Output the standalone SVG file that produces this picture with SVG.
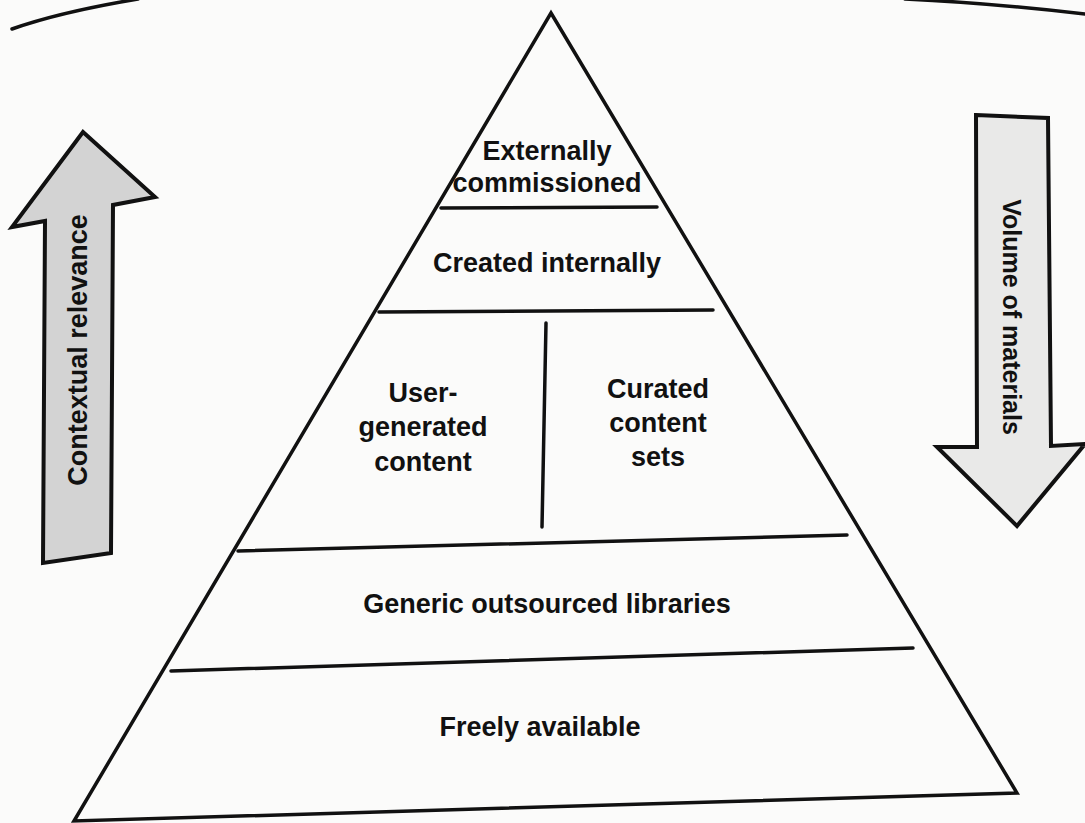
<svg xmlns="http://www.w3.org/2000/svg" width="1085" height="823" viewBox="0 0 1085 823">
  <style>
    .ln { fill: none; stroke: #111; stroke-width: 3.5; stroke-linecap: round; stroke-linejoin: miter; }
    .lbl { font-family: "Liberation Sans", Arial, sans-serif; font-weight: bold; font-size: 27px; fill: #111; text-anchor: middle; }
    .arrow { stroke: #111; stroke-width: 4; stroke-linejoin: miter; }
  </style>
  <rect width="1085" height="823" fill="#fbfbfa"/>

  <g id="page-rules">
    <path class="ln" d="M12,29 Q60,12 138,-1" stroke-width="5"/>
    <path class="ln" d="M905,-1 Q990,3 1085,14" stroke-width="4"/>
  </g>

  <g id="arrow-contextual-relevance">
    <path class="arrow" fill="#d3d3d3" d="M83,132 L155,197 L113,205 L111,553 L43,563 L45,221 L12,227 Z"/>
    <text class="lbl" transform="translate(77,350) rotate(-90)" y="10">Contextual relevance</text>
  </g>

  <g id="arrow-volume-of-materials">
    <path class="arrow" fill="#e9e9e8" d="M976,115 L1048,118 L1051,446 L1085,444 L1017,526 L937,447 L977,447 Z"/>
    <text class="lbl" style="font-size:25px" transform="translate(1012,317) rotate(90)" y="9">Volume of materials</text>
  </g>

  <g id="pyramid">
    <path class="ln" d="M551,13 L1017,793 L74,821 Z" stroke-width="4"/>
  </g>

  <g id="connectors">
    <line class="ln" x1="441" y1="208" x2="657" y2="207"/>
    <line class="ln" x1="379" y1="312" x2="713" y2="310"/>
    <line class="ln" x1="546" y1="323" x2="542" y2="527" stroke-width="3"/>
    <line class="ln" x1="238" y1="551" x2="847" y2="535"/>
    <line class="ln" x1="171" y1="671" x2="913" y2="648"/>
  </g>

  <g id="node-externally-commissioned">
    <text class="lbl" x="547" y="160">Externally</text>
    <text class="lbl" x="547" y="192">commissioned</text>
  </g>
  <g id="node-created-internally">
    <text class="lbl" x="547" y="272">Created internally</text>
  </g>
  <g id="node-user-generated">
    <text class="lbl" x="423" y="402">User-</text>
    <text class="lbl" x="423" y="436">generated</text>
    <text class="lbl" x="423" y="471">content</text>
  </g>
  <g id="node-curated">
    <text class="lbl" x="658" y="398">Curated</text>
    <text class="lbl" x="658" y="432">content</text>
    <text class="lbl" x="658" y="466">sets</text>
  </g>
  <g id="node-generic-outsourced">
    <text class="lbl" x="547" y="613">Generic outsourced libraries</text>
  </g>
  <g id="node-freely-available">
    <text class="lbl" x="540" y="736">Freely available</text>
  </g>
</svg>
